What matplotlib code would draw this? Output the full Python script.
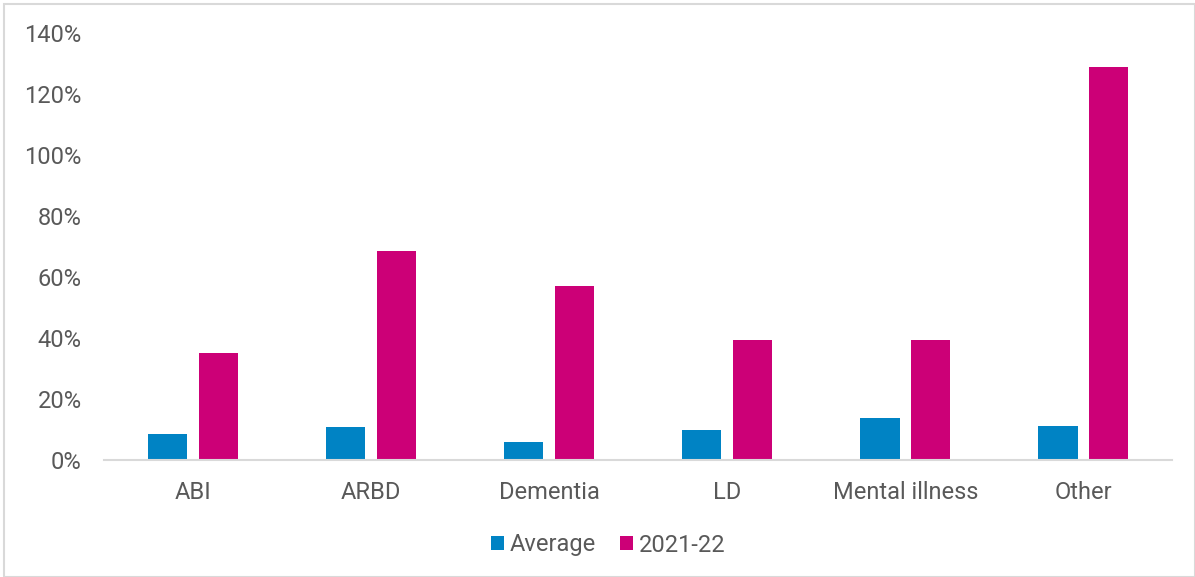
import numpy as np
import matplotlib
matplotlib.use("Agg")
import matplotlib.pyplot as plt
from matplotlib.patches import Rectangle
from matplotlib.ticker import PercentFormatter

categories = ["ABI", "ARBD", "Dementia", "LD", "Mental illness", "Other"]
average = [8.5, 10.9, 6.0, 9.8, 13.9, 11.3]
year_2122 = [35.2, 68.6, 56.9, 39.3, 39.3, 129.0]
series_names = ["Average", "2021-22"]

blue = "#0083C4"
magenta = "#CC0077"
text_grey = "#595959"

plt.rcParams["font.family"] = ["Roboto", "DejaVu Sans"]

fig = plt.figure(figsize=(11.95, 5.77), dpi=100)
ax = fig.add_axes([0.087, 0.2028, 0.894, 0.74])

x = np.arange(len(categories))
w = 0.222
off = 0.143
ax.bar(x - off, average, width=w, color=blue, label=series_names[0])
ax.bar(x + off, year_2122, width=w, color=magenta, label=series_names[1])

ax.set_xlim(-0.5, len(categories) - 0.5)
ax.set_ylim(0, 140)
ax.set_yticks(np.arange(0, 141, 20))
ax.yaxis.set_major_formatter(PercentFormatter(decimals=0))
ax.set_xticks(x)
ax.set_xticklabels(categories)

for s in ["top", "right", "left"]:
    ax.spines[s].set_visible(False)
ax.spines["bottom"].set_color("#d9d9d9")
ax.spines["bottom"].set_linewidth(1.5)
ax.tick_params(axis="both", length=0, labelsize=17, colors=text_grey)
ax.tick_params(axis="y", pad=16)
ax.tick_params(axis="x", pad=15)

fig.legend(loc="center", bbox_to_anchor=(608 / 1195, 1 - 545 / 577),
           ncol=2, frameon=False, fontsize=17, labelcolor=text_grey,
           handlelength=0.55, handleheight=0.55, handletextpad=0.25,
           columnspacing=1.0)

# thin outline around the whole chart
fig.patches.append(Rectangle((4 / 1195, 0), 1 - 4 / 1195, 1 - 4 / 577,
                             transform=fig.transFigure, fill=False,
                             edgecolor="#d9d9d9", linewidth=1.5))

fig.savefig("out.png", dpi=100)
